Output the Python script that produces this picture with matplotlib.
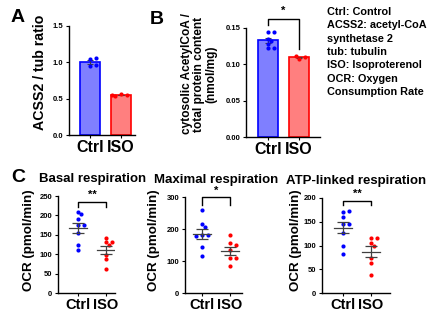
import numpy as np
import matplotlib as mpl
mpl.use('Agg')
import matplotlib.pyplot as plt

plt.rcParams['font.family'] = ['Liberation Sans', 'DejaVu Sans']
plt.rcParams['font.weight'] = 'bold'
plt.rcParams['axes.labelweight'] = 'bold'
plt.rcParams['axes.titleweight'] = 'bold'

W, H = 440, 330

groups = ['Ctrl', 'ISO']

# A: ACSS2 / tubulin western blot quantification
acss2_ctrl = [1.05, 1.06, 0.95, 0.96]
acss2_iso = [0.56, 0.55, 0.54, 0.55]

# B: cytosolic acetyl-CoA (nmol/mg)
acoa_ctrl = [0.145, 0.145, 0.135, 0.132, 0.128, 0.123, 0.123]
acoa_iso = [0.108, 0.110, 0.111]

# C: OCR (pmol/min)
basal_ctrl = [208, 203, 191, 175, 175, 154, 124, 111]
basal_iso = [143, 131, 131, 124, 98, 88, 63]
maximal_ctrl = [259, 216, 207, 180, 180, 178, 143, 117]
maximal_iso = [182, 155, 150, 134, 108, 108, 84]
atp_ctrl = [170, 172, 161, 146, 146, 126, 98, 82]
atp_iso = [115, 115, 106, 99, 73, 64, 38]

BLUE = '#0000ff'
RED = '#ff0000'
BLUE_FILL = '#7f7fff'
RED_FILL = '#ff7f7f'
GREY = '#404040'

fig = plt.figure(figsize=(W / 100, H / 100), dpi=100)


def px_axes(l, t, r, b, xsize=11):
    ax = fig.add_axes([l / W, 1 - b / H, (r - l) / W, (b - t) / H])
    for s in ['top', 'right']:
        ax.spines[s].set_visible(False)
    for s in ['left', 'bottom']:
        ax.spines[s].set_linewidth(1.0)
    ax.tick_params(axis='y', labelsize=5.5, length=2.5, width=0.8, pad=1.5)
    ax.tick_params(axis='x', labelsize=xsize, length=2.5, width=0.8, pad=1)
    return ax


def label_at(ax, text, right_px, center_px, l, t, r, b, size, **kw):
    # place the y label by its right edge / vertical centre in pixels
    ax.set_ylabel(text, fontsize=size, **kw)
    ax.yaxis.set_label_coords((right_px - l) / (r - l), 1 - (center_px - t) / (b - t))


def swarm_offsets(ax, xc, vals, ms=3.6):
    # spread points horizontally so markers don't overlap (pixel space)
    trans = ax.transData
    placed = []
    offs = []
    for v in vals:
        x0, y0 = trans.transform((xc, v))
        for k in [0, 1, -1, 2, -2, 3, -3]:
            xp = x0 + k * ms * 0.85
            if all((xp - a) ** 2 + (y0 - b) ** 2 >= ms ** 2 for a, b in placed):
                break
        placed.append((xp, y0))
        offs.append(trans.inverted().transform((xp, y0))[0])
    return offs


def sem(v):
    v = np.asarray(v, float)
    return v.std(ddof=1) / np.sqrt(len(v))


def bar_panel(ax, ctrl, iso):
    for i, (vals, fc, ec) in enumerate([(ctrl, BLUE_FILL, BLUE), (iso, RED_FILL, RED)]):
        m = np.mean(vals)
        ax.bar(i, m, width=0.65, color=fc, edgecolor=ec, linewidth=1.2, zorder=1)
        ax.errorbar(i, m, yerr=sem(vals), color=GREY, capsize=2.5, lw=0.8,
                    capthick=0.8, zorder=3)
        xs = swarm_offsets(ax, i, vals)
        ax.scatter(xs, vals, s=9, color=ec, zorder=4, linewidths=0)
    ax.set_xticks([0, 1])
    ax.set_xticklabels(groups)


def dot_panel(ax, ctrl, iso):
    for i, (vals, c) in enumerate([(ctrl, BLUE), (iso, RED)]):
        m = np.mean(vals)
        e = sem(vals)
        xs = swarm_offsets(ax, i, vals)
        ax.scatter(xs, vals, s=9, color=c, zorder=3, linewidths=0)
        ax.plot([i - 0.32, i + 0.32], [m, m], color=GREY, lw=0.9, zorder=4)
        ax.errorbar(i, m, yerr=e, color=GREY, capsize=4.5, lw=0.9,
                    capthick=0.9, zorder=4)
    ax.set_xticks([0, 1])
    ax.set_xticklabels(groups)


def bracket(ax, y, yl, yr, label, ty):
    ax.plot([0, 0, 1, 1], [yl, y, y, yr], color='black', lw=1.0, clip_on=False)
    ax.text(0.5, ty, label, ha='center', va='center', fontsize=8, clip_on=False)


# panel A
boxA = (69, 26, 135, 135)
axA = px_axes(*boxA, xsize=11.5)
axA.set_xlim(-0.68, 1.45)
axA.set_ylim(0, 1.5)
axA.set_yticks([0, 0.5, 1.0, 1.5])
axA.set_yticklabels(['0.0', '0.5', '1.0', '1.5'])
bar_panel(axA, acss2_ctrl, acss2_iso)
label_at(axA, 'ACSS2 / tub ratio', 47, 72, *boxA, size=10.2)

# panel B
boxB = (246, 28, 320, 137)
axB = px_axes(*boxB, xsize=11.5)
axB.set_xlim(-0.71, 1.68)
axB.set_ylim(0, 0.15)
axB.set_yticks([0, 0.05, 0.10, 0.15])
axB.set_yticklabels(['0.00', '0.05', '0.10', '0.15'])
bar_panel(axB, acoa_ctrl, acoa_iso)
label_at(axB, 'cytosolic AcetylCoA /\ntotal protein content\n(nmol/mg)',
         217, 74, *boxB, size=8.6, linespacing=1.0)
bracket(axB, 0.162, 0.154, 0.121, '*', 0.174)

# panel C
box1 = (58, 196, 115, 293)
axC1 = px_axes(*box1, xsize=10.5)
axC1.set_xlim(-0.71, 1.32)
axC1.set_ylim(0, 250)
axC1.set_yticks(range(0, 251, 50))
dot_panel(axC1, basal_ctrl, basal_iso)
label_at(axC1, 'OCR (pmol/min)', 35, 240, *box1, size=9.6)
axC1.set_title('Basal respiration', fontsize=9.5, pad=10, x=0.6)
bracket(axC1, 235, 222, 222, '**', 253)

box2 = (185, 197, 242, 293)
axC2 = px_axes(*box2, xsize=10.5)
axC2.set_xlim(-0.61, 1.43)
axC2.set_ylim(0, 300)
axC2.set_yticks([0, 100, 200, 300])
dot_panel(axC2, maximal_ctrl, maximal_iso)
label_at(axC2, 'OCR (pmol/min)', 160, 240, *box2, size=9.6)
axC2.set_title('Maximal respiration', fontsize=9.5, pad=10, x=0.55)
bracket(axC2, 299, 275, 275, '*', 320)

box3 = (322, 198, 390, 293)
axC3 = px_axes(*box3, xsize=10.5)
axC3.set_xlim(-0.75, 1.68)
axC3.set_ylim(0, 200)
axC3.set_yticks(range(0, 201, 50))
dot_panel(axC3, atp_ctrl, atp_iso)
label_at(axC3, 'OCR (pmol/min)', 302, 240, *box3, size=9.6)
axC3.set_title('ATP-linked respiration', fontsize=9.5, pad=10, x=0.5)
bracket(axC3, 194, 185, 185, '**', 208)

# panel letters
for letter, x, y in [('A', 18, 18), ('B', 157, 19), ('C', 18, 178)]:
    fig.text(x / W, 1 - y / H, letter, fontsize=14, ha='center', va='center')

# abbreviations
notes = ['Ctrl: Control', 'ACSS2: acetyl-CoA', 'synthetase 2', 'tub: tubulin',
         'ISO: Isoproterenol', 'OCR: Oxygen', 'Consumption Rate']
for i, line in enumerate(notes):
    fig.text(327 / W, 1 - (12 + i * 13.3) / H, line, fontsize=7.8,
             ha='left', va='center')

fig.savefig('out.png', dpi=100)
